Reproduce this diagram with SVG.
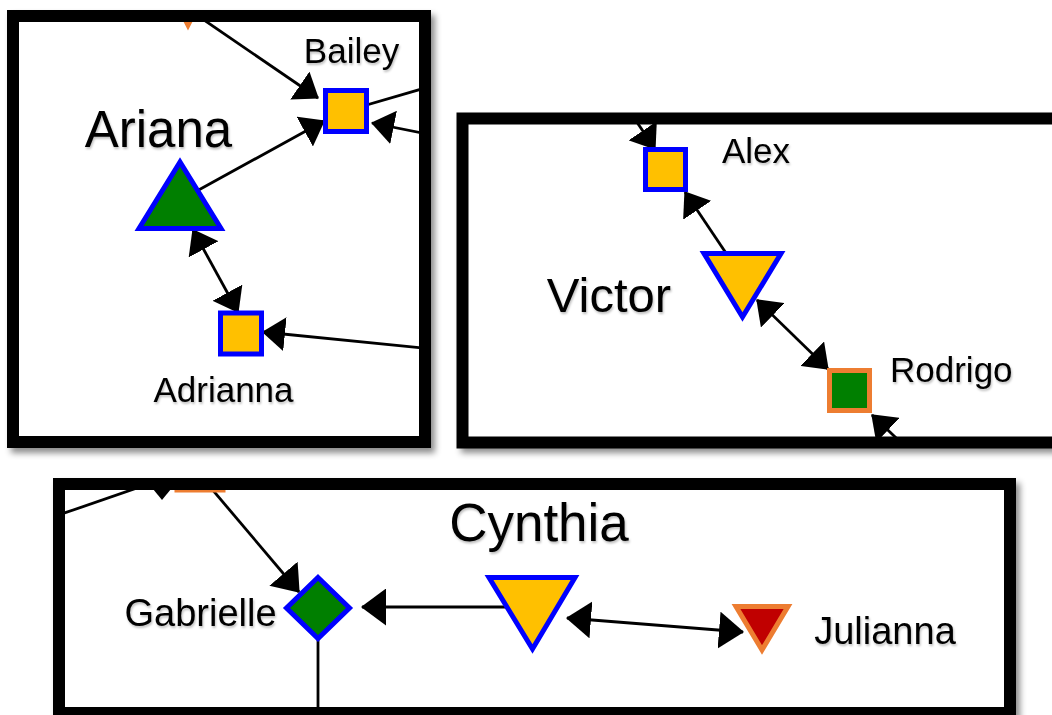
<svg xmlns="http://www.w3.org/2000/svg" width="1052" height="715" viewBox="0 0 1052 715">
  <style>
    .frame { fill: none; stroke: #000; stroke-width: 12; }
    .backing { fill: #fff; filter: url(#panelShadow); }
    .edge { fill: none; stroke: #000; stroke-width: 2.8; }
    .arrow { marker-end: url(#head); }
    .both { marker-start: url(#head); marker-end: url(#head); }
    .arrowL { marker-end: url(#headL); }
    .bothL { marker-start: url(#headL); marker-end: url(#headL); }
    .blue-gold { fill: #FFC000; stroke: #0000FF; stroke-width: 5; }
    .blue-green { fill: #007F00; stroke: #0000FF; stroke-width: 5; }
    .orange-green { fill: #007F00; stroke: #ED7D31; stroke-width: 5; }
    .orange-red { fill: #C00000; stroke: #ED7D31; stroke-width: 5; }
    text { font-family: "Liberation Sans", Arial, Helvetica, sans-serif; fill: #000; filter: url(#textShadow); }
  </style>
  <defs>
    <filter id="panelShadow" x="-5%" y="-5%" width="115%" height="115%">
      <feDropShadow dx="4" dy="5" stdDeviation="3" flood-color="#000" flood-opacity="0.45"/>
    </filter>
    <filter id="textShadow" x="-10%" y="-20%" width="125%" height="150%">
      <feDropShadow dx="1" dy="2" stdDeviation="1.2" flood-color="#000" flood-opacity="0.25"/>
    </filter>
    <marker id="head" viewBox="0 0 23 34" refX="22" refY="17" markerWidth="23" markerHeight="34" markerUnits="userSpaceOnUse" orient="auto-start-reverse">
      <path d="M0,0 L23,17 L0,34 z" fill="#000"/>
    </marker>
    <marker id="headL" viewBox="0 0 25 37" refX="24" refY="18.5" markerWidth="25" markerHeight="37" markerUnits="userSpaceOnUse" orient="auto-start-reverse">
      <path d="M0,0 L25,18.5 L0,37 z" fill="#000"/>
    </marker>
    <clipPath id="clipA"><rect x="19" y="22" width="400" height="414"/></clipPath>
    <clipPath id="clipB"><rect x="468" y="124" width="600" height="313"/></clipPath>
    <clipPath id="clipC"><rect x="65" y="490" width="939" height="217"/></clipPath>
  </defs>

  <!-- panel backgrounds with shadows -->
  <rect class="backing" x="7" y="10" width="424" height="438"/>
  <rect class="backing" x="457" y="113" width="620" height="335"/>
  <rect class="backing" x="53" y="478" width="963" height="260"/>

  <!-- left panel -->
  <g clip-path="url(#clipA)">
    <g id="connectors-a">
      <line class="edge arrow" x1="185" y1="7" x2="318" y2="98"/>
      <line class="edge arrow" x1="195" y1="192" x2="324" y2="121"/>
      <line class="edge" x1="346" y1="111" x2="432" y2="86"/>
      <line class="edge arrow" x1="432" y1="135" x2="372" y2="123"/>
      <line class="edge both" x1="193" y1="230" x2="238" y2="312"/>
      <line class="edge arrow" x1="432" y1="349" x2="263" y2="332"/>
    </g>
    <g id="node-offscreen-a">
      <path class="orange-red" d="M168,-14 L208,-14 L188,25 z"/>
    </g>
    <g id="node-ariana">
      <path class="blue-green" d="M180,162 L139,228.5 L221,228.5 z"/>
      <text x="158.5" y="147" font-size="51" text-anchor="middle">Ariana</text>
    </g>
    <g id="node-bailey">
      <rect class="blue-gold" x="325.5" y="90.5" width="41" height="41"/>
      <text x="351.5" y="63" font-size="35" text-anchor="middle">Bailey</text>
    </g>
    <g id="node-adrianna">
      <rect class="blue-gold" x="220.5" y="313" width="41" height="41"/>
      <text x="223.5" y="402" font-size="35" text-anchor="middle">Adrianna</text>
    </g>
  </g>
  <rect class="frame" x="13" y="16" width="412" height="426"/>

  <!-- right panel -->
  <g clip-path="url(#clipB)">
    <g id="connectors-b">
      <line class="edge arrow" x1="622" y1="100" x2="655" y2="149"/>
      <line class="edge arrow" x1="732" y1="262" x2="685" y2="192"/>
      <line class="edge both" x1="757" y1="300" x2="828" y2="369"/>
      <line class="edge arrow" x1="912" y1="453" x2="872" y2="415"/>
    </g>
    <g id="node-alex">
      <rect class="blue-gold" x="645.5" y="149.5" width="40" height="40"/>
      <text x="722" y="163" font-size="35">Alex</text>
    </g>
    <g id="node-victor">
      <path class="blue-gold" d="M704,253.5 L781,253.5 L742.5,317 z"/>
      <text x="609" y="312" font-size="49" text-anchor="middle">Victor</text>
    </g>
    <g id="node-rodrigo">
      <rect class="orange-green" x="829.5" y="370.5" width="40" height="40"/>
      <text x="890" y="382" font-size="35">Rodrigo</text>
    </g>
  </g>
  <rect class="frame" x="462.5" y="118.5" width="620" height="324" stroke-width="11"/>

  <!-- bottom panel -->
  <g clip-path="url(#clipC)">
    <g id="connectors-c">
      <line class="edge" x1="40" y1="521.5" x2="160" y2="480"/>
      <polygon points="153,489 171,489 162,500" fill="#000"/>
      <line class="edge arrowL" x1="200" y1="475" x2="299" y2="592"/>
      <line class="edge arrowL" x1="520" y1="607" x2="362" y2="607"/>
      <line class="edge bothL" x1="567" y1="618" x2="743" y2="632"/>
      <line class="edge" x1="318" y1="630" x2="318" y2="720"/>
    </g>
    <g id="node-offscreen-c">
      <rect class="orange-green" x="177" y="446" width="46" height="44"/>
    </g>
    <g id="node-gabrielle">
      <path class="blue-green" d="M318,577.5 L349.5,608 L318,638.5 L286.5,608 z"/>
      <text x="200.5" y="626" font-size="38" text-anchor="middle">Gabrielle</text>
    </g>
    <g id="node-cynthia">
      <path class="blue-gold" d="M489,577.5 L575,577.5 L532.5,649 z"/>
      <text x="539" y="541" font-size="53" text-anchor="middle">Cynthia</text>
    </g>
    <g id="node-julianna">
      <path class="orange-red" d="M736,606.5 L788,606.5 L762,650 z"/>
      <text x="885" y="644" font-size="38" text-anchor="middle">Julianna</text>
    </g>
  </g>
  <rect class="frame" x="59" y="484" width="951" height="229"/>
</svg>
